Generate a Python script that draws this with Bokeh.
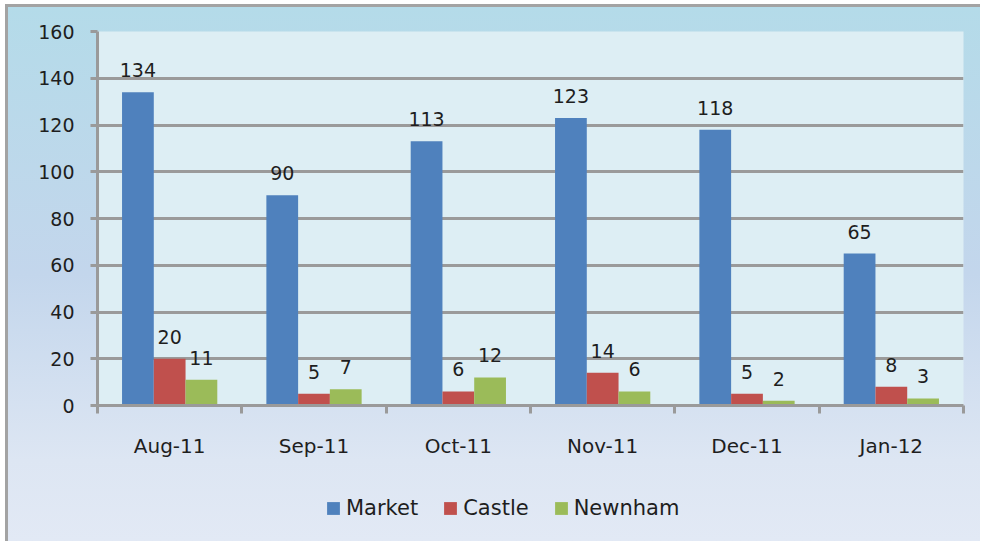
from bokeh.plotting import figure
from bokeh.layouts import column
from bokeh.models import (Range1d, FixedTicker, ColumnDataSource, Legend, LegendItem, LabelSet)
from bokeh.embed import file_html
from bokeh.resources import INLINE
from bokeh.core.properties import value

months = ["Aug-11", "Sep-11", "Oct-11", "Nov-11", "Dec-11", "Jan-12"]
series = ["Market", "Castle", "Newnham"]
market = [134, 90, 113, 123, 118, 65]
castle = [20, 5, 6, 14, 5, 8]
newnham = [11, 7, 12, 6, 2, 3]
y_ticks = [0, 20, 40, 60, 80, 100, 120, 140, 160]

colors = ["#4f81bd", "#c0504d", "#9bbb59"]
FONT = "DejaVu Sans"
TXT = "#1e1e1e"
GRAY = "#9a9a9a"

W = 972
p = figure(width=W, height=475, output_backend="svg", toolbar_location=None,
           x_range=Range1d(0, len(months)), y_range=Range1d(0, 160),
           min_border_left=89, min_border_right=17, min_border_top=24, min_border_bottom=77,
           background_fill_color="#ddeef4", border_fill_alpha=0)
p.outline_line_color = None

centers = [i + 0.5 for i in range(len(months))]
bw = 0.22
offsets = [-bw, 0, bw]
vals = [market, castle, newnham]
for k, (name, v, c) in enumerate(zip(series, vals, colors)):
    xs = [cx + offsets[k] for cx in centers]
    src = ColumnDataSource(dict(x=xs, top=v, lab=[str(t) for t in v]))
    p.vbar(x="x", top="top", width=bw, source=src, fill_color=c, line_color=None)
    p.add_layout(LabelSet(x="x", y="top", text="lab", source=src, y_offset=15,
                          text_align="center", text_baseline="alphabetic",
                          text_font=value(FONT), text_font_size="19px", text_color=TXT))

# axes
xa = p.xaxis[0]
xa.ticker = FixedTicker(ticks=centers, minor_ticks=list(range(len(months) + 1)))
xa.major_label_overrides = {c: m for c, m in zip(centers, months)}
xa.major_tick_out = 0
xa.major_tick_in = 0
xa.minor_tick_out = 8
xa.minor_tick_in = 0
xa.minor_tick_line_color = GRAY
xa.minor_tick_line_width = 3
xa.axis_line_color = GRAY
xa.axis_line_width = 3
xa.major_label_standoff = 20
xa.major_label_text_font = FONT
xa.major_label_text_font_size = "20px"
xa.major_label_text_color = TXT

ya = p.yaxis[0]
ya.ticker = FixedTicker(ticks=y_ticks)
ya.major_tick_out = 7
ya.major_tick_in = 0
ya.minor_tick_line_color = None
ya.major_tick_line_color = GRAY
ya.major_tick_line_width = 3
ya.axis_line_color = GRAY
ya.axis_line_width = 3
ya.major_label_standoff = 16
ya.major_label_text_font = FONT
ya.major_label_text_font_size = "19px"
ya.major_label_text_color = TXT

p.xgrid.grid_line_color = None
p.ygrid.ticker = FixedTicker(ticks=y_ticks)
p.ygrid.grid_line_color = GRAY
p.ygrid.grid_line_width = 3

# legend strip (its own figure so the legend is not clipped by the chart frame)
LH = 59
lg = figure(width=W, height=LH, output_backend="svg", toolbar_location=None,
            x_range=Range1d(0, 1), y_range=Range1d(0, 1),
            x_axis_location=None, y_axis_location=None,
            min_border=0, min_border_left=0, min_border_right=0, min_border_top=0, min_border_bottom=0,
            background_fill_alpha=0, border_fill_alpha=0)
lg.outline_line_color = None
lg.xgrid.visible = False
lg.ygrid.visible = False
lrs = []
for name, c in zip(series, colors):
    lrs.append(lg.vbar(x=[5], top=[-5], width=0.1, fill_color=c, line_color=None))

legend = Legend(items=[LegendItem(label=s, renderers=[r]) for s, r in zip(series, lrs)],
                orientation="horizontal", location=(228, 21),
                glyph_width=16, glyph_height=16, label_standoff=5, spacing=24,
                padding=0, margin=0, border_line_color=None, background_fill_alpha=0,
                label_text_font=FONT, label_text_font_size="21px", label_text_color=TXT)
lg.add_layout(legend, "center")

layout = column(p, lg, spacing=0,
                styles={"background": "linear-gradient(to bottom, #b4dbe9 0%, #c3d6ec 50%, #dde6f3 85%, #e2e9f5 100%)",
                        "border-left": "3px solid #a3a3a3", "border-top": "3px solid #a3a3a3",
                        "margin-left": "5px", "margin-top": "4px"})

open("out.html", "w").write(file_html(layout, INLINE))
